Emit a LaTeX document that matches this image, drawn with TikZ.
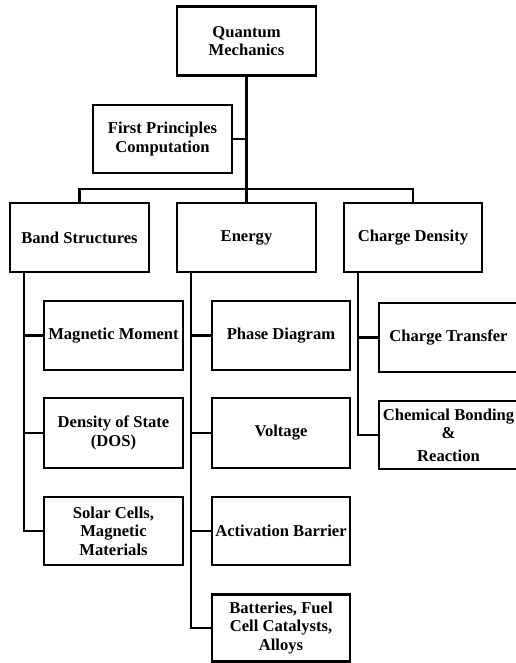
\documentclass[tikz,border=0pt]{standalone}
\usepackage{fontspec}
\setmainfont{Liberation Serif}
\begin{document}
\begin{tikzpicture}[x=1pt,y=-1pt,
  box/.style={draw,line width=2.2pt,minimum width=139pt,minimum height=69pt,inner sep=1pt,align=center,font=\fontsize{16.6}{18.5}\selectfont\bfseries},
  conn/.style={line width=2.2pt}]
\useasboundingbox (0,0) rectangle (515,663);
\node[box] (qm) at (246.5,41) {Quantum\\Mechanics};
\node[box,minimum height=68pt] (fp) at (162.5,139) {First Principles\\Computation};
\node[box] (band) at (79.5,237.5) {Band Structures};
\node[box] (energy) at (246.5,237.5) {Energy};
\node[box,minimum width=138pt] (charge) at (413,237.5) {Charge Density};
\node[box] (mag) at (113.5,335.5) {Magnetic Moment};
\node[box,minimum height=70pt] (dos) at (113.5,433) {Density of State\\(DOS)};
\node[box,minimum height=68pt] (solar) at (113.5,531) {Solar Cells,\\Magnetic\\Materials};
\node[box,minimum width=138pt] (phase) at (281,335.5) {Phase Diagram};
\node[box,minimum width=138pt,minimum height=70pt] (volt) at (281,433) {Voltage};
\node[box,minimum width=138pt,minimum height=68pt] (act) at (281,531) {Activation Barrier};
\node[box,minimum width=138pt,minimum height=67pt] (bat) at (281,628) {Batteries, Fuel\\Cell Catalysts,\\Alloys};
\node[box] (ct) at (448.5,337.5) {Charge Transfer};
\node[box,minimum height=68pt] (cb) at (448.5,435) {Chemical Bonding\\\&\\[4pt]Reaction};
\coordinate (bus) at (246.5,189);
\coordinate (bl) at (24,0);
\coordinate (el) at (191,0);
\coordinate (cl) at (358,0);
\draw[conn] (qm.south) -- (energy.north);
\draw[conn] (fp.east) -- (fp.east -| qm.south);
\draw[conn] (band.north) |- (bus) -| (charge.north);
\draw[conn] (band.south -| bl) |- (solar.west);
\draw[conn] (mag.west) -- (mag.west -| bl);
\draw[conn] (dos.west) -- (dos.west -| bl);
\draw[conn] (energy.south -| el) |- (bat.west);
\draw[conn] (phase.west) -- (phase.west -| el);
\draw[conn] (volt.west) -- (volt.west -| el);
\draw[conn] (act.west) -- (act.west -| el);
\draw[conn] (charge.south -| cl) |- (cb.west);
\draw[conn] (ct.west) -- (ct.west -| cl);
\end{tikzpicture}
\end{document}
